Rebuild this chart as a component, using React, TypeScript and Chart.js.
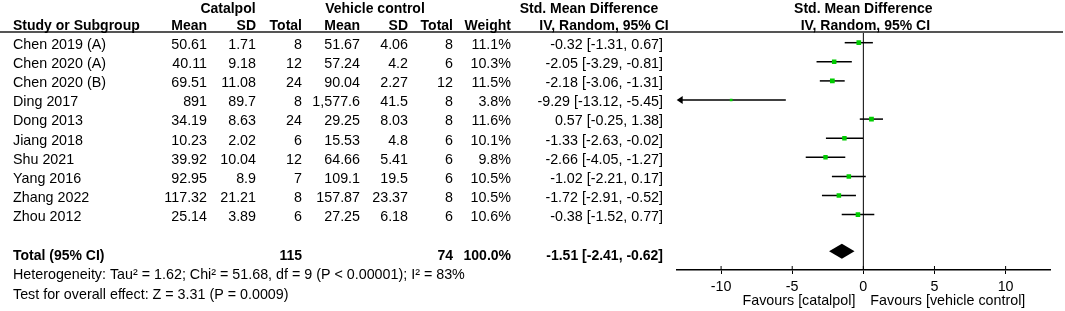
import { useEffect, useRef } from 'react';
import { Chart, registerables } from 'chart.js';

Chart.register(...registerables);

const studies = ['Chen 2019 (A)', 'Chen 2020 (A)', 'Chen 2020 (B)', 'Ding 2017', 'Dong 2013', 'Jiang 2018', 'Shu 2021', 'Yang 2016', 'Zhang 2022', 'Zhou 2012'];
const catMean = ['50.61', '40.11', '69.51', '891', '34.19', '10.23', '39.92', '92.95', '117.32', '25.14'];
const catSD = ['1.71', '9.18', '11.08', '89.7', '8.63', '2.02', '10.04', '8.9', '21.21', '3.89'];
const catN = [8, 12, 24, 8, 24, 6, 12, 7, 8, 6];
const vehMean = ['51.67', '57.24', '90.04', '1,577.6', '29.25', '15.53', '64.66', '109.1', '157.87', '27.25'];
const vehSD = ['4.06', '4.2', '2.27', '41.5', '8.03', '4.8', '5.41', '19.5', '23.37', '6.18'];
const vehN = [8, 6, 12, 8, 8, 6, 6, 6, 8, 6];
const weights = [11.1, 10.3, 11.5, 3.8, 11.6, 10.1, 9.8, 10.5, 10.5, 10.6];
const smd = [-0.32, -2.05, -2.18, -9.29, 0.57, -1.33, -2.66, -1.02, -1.72, -0.38];
const ciLow = [-1.31, -3.29, -3.06, -13.12, -0.25, -2.63, -4.05, -2.21, -2.91, -1.52];
const ciHigh = [0.67, -0.81, -1.31, -5.45, 1.38, -0.02, -1.27, 0.17, -0.52, 0.77];

const totalCatN = 115;
const totalVehN = 74;
const totalWeight = 100.0;
const totalSMD = -1.51;
const totalLow = -2.41;
const totalHigh = -0.62;
const totalRow = 11;

const xMin = -13.12;
const xMax = 13.12;
const xTicks = [-10, -5, 0, 5, 10];

const heterogeneityText = 'Heterogeneity: Tau² = 1.62; Chi² = 51.68, df = 9 (P < 0.00001); I² = 83%';
const overallText = 'Test for overall effect: Z = 3.31 (P = 0.0009)';
const favoursLeft = 'Favours [catalpol]';
const favoursRight = 'Favours [vehicle control]';

const FONT = '"Liberation Sans", Arial, Helvetica, sans-serif';
const GREEN = '#00cc00';

const f2 = (v: number) => v.toFixed(2);
const ciText = (m: number, l: number, h: number) => `${f2(m)} [${f2(l)}, ${f2(h)}]`;

const forestPlugin = {
  id: 'forestPlugin',
  beforeDatasetsDraw(chart: any) {
    const { ctx, chartArea, scales } = chart;
    const x = scales.x;
    const y = scales.y;
    ctx.save();
    ctx.strokeStyle = '#000';
    ctx.fillStyle = '#000';
    const x0 = x.getPixelForValue(0);
    ctx.lineWidth = 1;
    ctx.beginPath();
    ctx.moveTo(x0, chartArea.top);
    ctx.lineTo(x0, chartArea.bottom);
    ctx.stroke();
    x.ticks.forEach((t: any) => {
      const px = x.getPixelForValue(t.value);
      ctx.beginPath();
      ctx.moveTo(px, chartArea.bottom - 4);
      ctx.lineTo(px, chartArea.bottom);
      ctx.stroke();
    });
    ctx.lineWidth = 1.5;
    studies.forEach((_, i) => {
      const py = y.getPixelForValue(i);
      const lo = Math.max(ciLow[i], xMin);
      const hi = Math.min(ciHigh[i], xMax);
      const pl = x.getPixelForValue(lo);
      const ph = x.getPixelForValue(hi);
      const leftArrow = ciLow[i] <= xMin;
      const rightArrow = ciHigh[i] >= xMax;
      ctx.beginPath();
      ctx.moveTo(leftArrow ? pl + 4 : pl, py);
      ctx.lineTo(rightArrow ? ph - 4 : ph, py);
      ctx.stroke();
      if (leftArrow) {
        ctx.beginPath();
        ctx.moveTo(pl, py);
        ctx.lineTo(pl + 6, py - 4);
        ctx.lineTo(pl + 6, py + 4);
        ctx.closePath();
        ctx.fill();
      }
      if (rightArrow) {
        ctx.beginPath();
        ctx.moveTo(ph, py);
        ctx.lineTo(ph - 6, py - 4);
        ctx.lineTo(ph - 6, py + 4);
        ctx.closePath();
        ctx.fill();
      }
    });
    const dy = y.getPixelForValue(totalRow) - 1.5;
    ctx.beginPath();
    ctx.moveTo(x.getPixelForValue(totalLow), dy);
    ctx.lineTo(x.getPixelForValue(totalSMD), dy - 7.5);
    ctx.lineTo(x.getPixelForValue(totalHigh), dy);
    ctx.lineTo(x.getPixelForValue(totalSMD), dy + 7.5);
    ctx.closePath();
    ctx.fill();
    ctx.restore();
  },
  afterDraw(chart: any) {
    const { ctx, chartArea, scales } = chart;
    const x = scales.x;
    const y = scales.y;
    ctx.save();
    ctx.strokeStyle = '#555';
    ctx.lineWidth = 2;
    ctx.beginPath();
    ctx.moveTo(0, chartArea.top);
    ctx.lineTo(1063, chartArea.top);
    ctx.stroke();

    ctx.fillStyle = '#000';
    ctx.textBaseline = 'alphabetic';
    const text = (s: string, px: number, py: number, align: CanvasTextAlign, bold = false) => {
      ctx.font = bold ? `bold 14px ${FONT}` : `14.3px ${FONT}`;
      ctx.textAlign = align;
      ctx.fillText(s, px, py);
    };
    const h1 = 13;
    const h2 = 30;
    const x0 = x.getPixelForValue(0);
    text('Catalpol', 228, h1, 'center', true);
    text('Vehicle control', 375, h1, 'center', true);
    text('Std. Mean Difference', 589, h1, 'center', true);
    text('Std. Mean Difference', x0, h1, 'center', true);
    text('Study or Subgroup', 13, h2, 'left', true);
    text('Mean', 207, h2, 'right', true);
    text('SD', 256, h2, 'right', true);
    text('Total', 302, h2, 'right', true);
    text('Mean', 360, h2, 'right', true);
    text('SD', 408, h2, 'right', true);
    text('Total', 453, h2, 'right', true);
    text('Weight', 511, h2, 'right', true);
    text('IV, Random, 95% CI', 604, h2, 'center', true);
    text('IV, Random, 95% CI', x0 + 2, h2, 'center', true);

    studies.forEach((s, i) => {
      const by = y.getPixelForValue(i) + 6.3;
      text(s, 13, by, 'left');
      text(catMean[i], 207, by, 'right');
      text(catSD[i], 256, by, 'right');
      text(String(catN[i]), 302, by, 'right');
      text(vehMean[i], 360, by, 'right');
      text(vehSD[i], 408, by, 'right');
      text(String(vehN[i]), 453, by, 'right');
      text(weights[i].toFixed(1) + '%', 511, by, 'right');
      text(ciText(smd[i], ciLow[i], ciHigh[i]), 663, by, 'right');
    });

    const ty = y.getPixelForValue(totalRow) + 6.8;
    text('Total (95% CI)', 13, ty, 'left', true);
    text(String(totalCatN), 302, ty, 'right', true);
    text(String(totalVehN), 453, ty, 'right', true);
    text(totalWeight.toFixed(1) + '%', 511, ty, 'right', true);
    text(ciText(totalSMD, totalLow, totalHigh), 663, ty, 'right', true);

    text(heterogeneityText, 13, ty + 19.5, 'left');
    text(overallText, 13, ty + 39, 'left');

    text(favoursLeft, x0 - 8, 305, 'right');
    text(favoursRight, x0 + 7, 305, 'left');
    ctx.restore();
  },
};

export default function App() {
  const ref = useRef<HTMLCanvasElement>(null);
  useEffect(() => {
    document.body.style.margin = '0';
    Chart.defaults.font.family = FONT;
    const chart = new Chart(ref.current as HTMLCanvasElement, {
      type: 'scatter',
      data: {
        datasets: [
          {
            data: smd.map((v, i) => ({ x: v, y: i })),
            pointStyle: 'rect',
            pointRadius: weights.map((w) => Math.sqrt(w) * 0.99),
            pointHoverRadius: weights.map((w) => Math.sqrt(w) * 0.99),
            pointBackgroundColor: GREEN,
            pointBorderWidth: 0,
            borderWidth: 0,
          } as any,
        ],
      },
      options: {
        animation: false,
        responsive: false,
        events: [],
        layout: { padding: { left: 676.7, right: 15, top: 32, bottom: 0 } },
        plugins: { legend: { display: false }, tooltip: { enabled: false } },
        scales: {
          x: {
            type: 'linear',
            min: xMin,
            max: xMax,
            afterBuildTicks: (scale: any) => {
              scale.ticks = xTicks.map((v) => ({ value: v }));
            },
            afterFit: (scale: any) => {
              scale.height = 41;
            },
            ticks: {
              includeBounds: false,
              color: '#000',
              padding: 4,
              font: { size: 14.3, family: FONT },
              callback: (v: any) => String(v),
            },
            grid: { drawOnChartArea: false, drawTicks: true, tickLength: 4, color: '#000', lineWidth: 1 },
            border: { display: true, color: '#000', width: 1.5 },
          },
          y: {
            type: 'linear',
            display: false,
            reverse: true,
            min: -0.56,
            max: 11.9,
          },
        },
      },
      plugins: [forestPlugin],
    });
    return () => chart.destroy();
  }, []);
  return (
    <div style={{ position: 'absolute', left: 0, top: 0, width: 1065, height: 311, background: '#fff' }}>
      <canvas ref={ref} width={1065} height={311} style={{ display: 'block', width: 1065, height: 311 }} />
    </div>
  );
}
